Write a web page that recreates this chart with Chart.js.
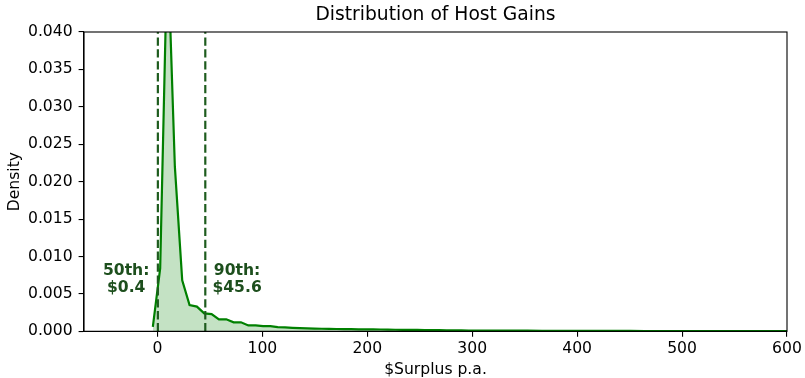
<!DOCTYPE html>
<html>
<head>
<meta charset="utf-8">
<script src="https://cdn.jsdelivr.net/npm/chart.js@4/dist/chart.umd.min.js"></script>
<style>
  html, body { margin: 0; padding: 0; background: #fff; }
  #wrap { width: 805px; height: 378px; position: relative; }
</style>
</head>
<body>
<div id="wrap"><canvas id="c" width="805" height="378"></canvas></div>
<script>
// Kernel density of host surplus ($ per annum)
const surplusX = [
  -4.4, 2.6, 9.6, 16.6, 23.6, 30.6, 37.6, 44.6, 51.6, 58.6,
  65.6, 72.6, 79.6, 86.6, 93.6, 100.6, 107.6, 114.6, 121.6, 128.6,
  135.6, 142.6, 149.6, 156.6, 163.6, 170.6, 177.6, 184.6, 191.6, 198.6,
  205.6, 212.6, 219.6, 226.6, 233.6, 240.6, 247.6, 254.6, 261.6, 268.6,
  275.6, 282.6, 289.6, 296.6, 310.6, 324.6, 338.6, 352.6, 366.6, 380.6,
  394.6, 408.6, 422.6, 436.6, 450.6, 464.6, 478.6, 492.6, 506.6, 520.6,
  534.6, 548.6, 562.6, 576.6, 590.6, 604.6, 618.6
];
const densityY = [
  0.0006, 0.0084, 0.0520, 0.0220, 0.0068, 0.0035, 0.0033, 0.0024, 0.0023, 0.0016,
  0.0016, 0.0012, 0.0012, 0.00078, 0.00080, 0.00068, 0.00070, 0.00056, 0.00052, 0.00046,
  0.00042, 0.00040, 0.00036, 0.00034, 0.00033, 0.00031, 0.00030, 0.00028, 0.00027, 0.00026,
  0.00025, 0.00024, 0.00022, 0.00021, 0.00020, 0.00019, 0.00018, 0.00017, 0.00016, 0.00015,
  0.00014, 0.00013, 0.00012, 0.00011, 0.00010, 0.00009, 0.00008, 0.00008, 0.00007, 0.00007,
  0.00006, 0.00006, 0.00005, 0.00005, 0.00005, 0.00004, 0.00004, 0.00004, 0.00004, 0.00003,
  0.00003, 0.00003, 0.00003, 0.00003, 0.00003, 0.00003, 0.00002
];

// Percentile markers
const percentileNames = ['50th', '90th'];
const percentileValues = [0.4, 45.6];

// Axis ticks
const xTicks = [0, 100, 200, 300, 400, 500, 600];
const yTicks = [0, 0.005, 0.010, 0.015, 0.020, 0.025, 0.030, 0.035, 0.040];

const FONT = 'DejaVu Sans';
const TICK_SIZE = 15.6;
const LINE_GREEN = '#008000';
const MARK_GREEN = '#1e5c1e';
const TEXT_GREEN = '#1d4f1d';

const curve = surplusX.map((x, i) => ({ x: x, y: densityY[i] }));

const markerSets = percentileValues.map(v => ({
  data: [{ x: v, y: 0 }, { x: v, y: 0.04 }],
  borderColor: MARK_GREEN,
  borderWidth: 2.2,
  borderDash: [8.3, 3.6],
  pointRadius: 0,
  fill: false,
  clip: 0,
  order: 0
}));

// Title, axis titles, frame and percentile annotations
const decorations = {
  id: 'decorations',
  afterDraw(chart) {
    const ctx = chart.ctx;
    const a = chart.chartArea;
    const xs = chart.scales.x, ys = chart.scales.y;
    ctx.save();
    ctx.strokeStyle = '#000';
    ctx.lineWidth = 1.1;
    ctx.strokeRect(a.left, a.top, a.right - a.left, a.bottom - a.top);

    ctx.fillStyle = '#000';
    ctx.textAlign = 'center';
    ctx.textBaseline = 'middle';
    ctx.font = '18.7px "' + FONT + '"';
    ctx.fillText('Distribution of Host Gains', (a.left + a.right) / 2, 15);

    ctx.font = TICK_SIZE + 'px "' + FONT + '"';
    ctx.fillText('$Surplus p.a.', (a.left + a.right) / 2, 369.5);
    ctx.translate(14.5, (a.top + a.bottom) / 2);
    ctx.rotate(-Math.PI / 2);
    ctx.fillText('Density', 0, 0);
    ctx.restore();

    ctx.save();
    ctx.fillStyle = TEXT_GREEN;
    ctx.font = 'bold ' + TICK_SIZE + 'px "' + FONT + '"';
    ctx.textAlign = 'center';
    ctx.textBaseline = 'middle';
    percentileValues.forEach((v, i) => {
      const off = i === 0 ? -30.2 : 30.3;
      const px = xs.getPixelForValue(v + off);
      const py = ys.getPixelForValue(0.0069);
      ctx.fillText(percentileNames[i] + ':', px, py - 8.6);
      ctx.fillText('$' + v.toFixed(1), px, py + 8.6);
    });
    ctx.restore();
  }
};

new Chart(document.getElementById('c'), {
  type: 'line',
  data: {
    datasets: [
      {
        data: curve,
        borderColor: LINE_GREEN,
        borderWidth: 2.2,
        backgroundColor: 'rgba(0,128,0,0.23)',
        fill: 'origin',
        pointRadius: 0,
        tension: 0,
        clip: 0,
        order: 1
      },
      ...markerSets
    ]
  },
  options: {
    responsive: false,
    animation: false,
    events: [],
    layout: { padding: { left: 0, right: 18, top: 32, bottom: 0 } },
    plugins: { legend: { display: false }, tooltip: { enabled: false }, title: { display: false } },
    scales: {
      x: {
        type: 'linear',
        min: -70,
        max: 600,
        afterBuildTicks: s => { s.ticks = xTicks.map(v => ({ value: v })); },
        afterFit: s => { s.height = 46.7; },
        grid: { drawOnChartArea: false, drawTicks: true, tickLength: 5.4, color: '#000', lineWidth: 1.1 },
        border: { display: true, color: '#000', width: 1.1 },
        ticks: {
          color: '#000',
          font: { family: FONT, size: TICK_SIZE },
          padding: 3,
          maxRotation: 0,
          callback: v => String(v)
        }
      },
      y: {
        type: 'linear',
        min: 0,
        max: 0.04,
        afterBuildTicks: s => { s.ticks = yTicks.map(v => ({ value: v })); },
        afterFit: s => { s.width = 84; },
        grid: { drawOnChartArea: false, drawTicks: true, tickLength: 5.4, color: '#000', lineWidth: 1.1 },
        border: { display: true, color: '#000', width: 1.1 },
        ticks: {
          color: '#000',
          font: { family: FONT, size: TICK_SIZE },
          padding: 6,
          callback: v => v.toFixed(3)
        }
      }
    }
  },
  plugins: [decorations]
});
</script>
</body>
</html>
